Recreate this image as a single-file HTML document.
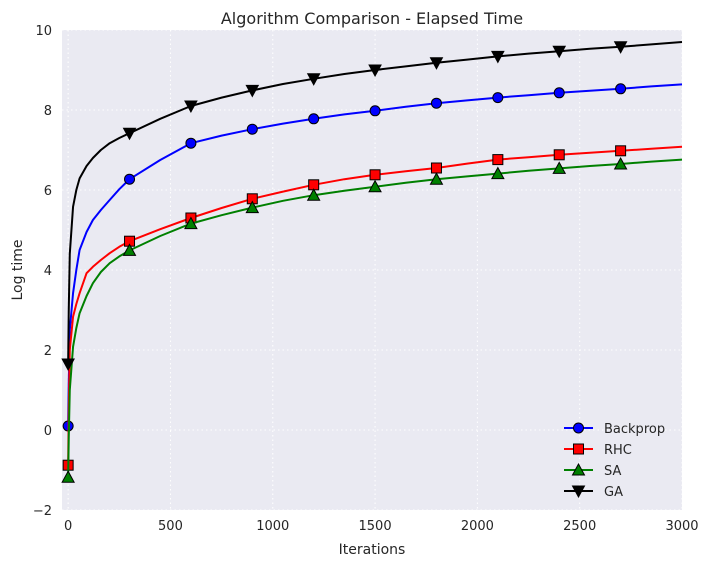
<!DOCTYPE html>
<html><head><meta charset="utf-8"><style>
body{margin:0;background:#fff;font-family:"Liberation Sans","DejaVu Sans",sans-serif}
svg text{font-family:"DejaVu Sans","Liberation Sans",sans-serif;fill:#262626}
</style></head><body>
<svg id="c" width="709" height="566" xmlns="http://www.w3.org/2000/svg"></svg>
<script>
const xs = [0,3,8,24,40,56,90,121,160,203,250,300,450,600,750,900,1050,1200,1350,1500,1650,1800,1950,2100,2250,2400,2550,2700,2850,3000];
const backprop = [0.1,1.2,2.5,3.42,4.0,4.5,4.95,5.25,5.5,5.75,6.02,6.27,6.75,7.17,7.36,7.52,7.66,7.78,7.89,7.98,8.08,8.17,8.24,8.31,8.37,8.43,8.48,8.53,8.59,8.64];
const rhc = [-0.88,0.5,2.0,2.83,3.15,3.42,3.92,4.08,4.25,4.42,4.58,4.72,5.02,5.3,5.55,5.78,5.96,6.13,6.27,6.38,6.47,6.55,6.66,6.76,6.82,6.88,6.93,6.98,7.03,7.08];
const sa = [-1.18,-0.2,1.0,2.08,2.55,2.92,3.35,3.67,3.95,4.17,4.34,4.49,4.85,5.16,5.37,5.56,5.73,5.87,5.98,6.08,6.18,6.27,6.34,6.41,6.48,6.54,6.6,6.65,6.71,6.76];
const ga = [1.65,3.0,4.4,5.58,6.0,6.29,6.6,6.8,7.0,7.17,7.3,7.42,7.78,8.1,8.31,8.49,8.65,8.78,8.9,9.0,9.09,9.18,9.26,9.34,9.41,9.47,9.53,9.58,9.64,9.7];
const markerIdx = [0,11,13,15,17,19,21,23,25,27];
const xTicks = [0,500,1000,1500,2000,2500,3000];
const yTicks = [-2,0,2,4,6,8,10];
const NS="http://www.w3.org/2000/svg", svg=document.getElementById('c');
const L=62,R=682,T=30,B=510, X0=-30,X1=3000,Y0=-2,Y1=10;
const sx=v=>L+(v-X0)/(X1-X0)*(R-L), sy=v=>B-(v-Y0)/(Y1-Y0)*(B-T);
function mk(t,a,p){const e=document.createElementNS(NS,t);for(const k in a)e.setAttribute(k,a[k]);(p||svg).appendChild(e);return e;}
const bg=mk('rect',{x:L,y:T,width:R-L,height:B-T,fill:'#eaeaf2'});


xTicks.forEach(v=>{const g=mk('line',{x1:sx(v),x2:sx(v),y1:T,y2:B,stroke:'#fff','stroke-dasharray':'1.5,3','stroke-width':1});


const t=mk('text',{x:sx(v),y:B+20,'font-size':13,'text-anchor':'middle'});t.textContent=v;

});
yTicks.forEach(v=>{const g=mk('line',{x1:L,x2:R,y1:sy(v),y2:sy(v),stroke:'#fff','stroke-dasharray':'1.5,3','stroke-width':1});


const t=mk('text',{x:L-10,y:sy(v)+5,'font-size':13,'text-anchor':'end'});t.textContent=v===-2?'\u22122':v;

});
function marker(type,x,y,col,g){
 if(type==='o')return mk('circle',{cx:x,cy:y,r:5,fill:col,stroke:'#000','stroke-width':1},g);
 if(type==='s')return mk('rect',{x:x-5,y:y-5,width:10,height:10,fill:col,stroke:'#000','stroke-width':1},g);
 if(type==='^')return mk('polygon',{points:`${x},${y-6} ${x-6},${y+5} ${x+6},${y+5}`,fill:col,stroke:'#000','stroke-width':1},g);
 return mk('polygon',{points:`${x},${y+6} ${x-6},${y-5} ${x+6},${y-5}`,fill:col,stroke:'#000','stroke-width':1},g);
}
const series=[['backprop',backprop,'#0000ff','o','Backprop'],['rhc',rhc,'#ff0000','s','RHC'],['sa',sa,'#008000','^','SA'],['ga',ga,'#000000','v','GA']];
series.forEach(([id,d,col,m])=>{
 const g=mk('g',{});
 
 
 const p=mk('path',{d:d.map((v,i)=>(i?'L':'M')+sx(xs[i])+','+sy(v)).join(''),fill:'none',stroke:col,'stroke-width':2,'stroke-linejoin':'round'},g);
 
 
 markerIdx.forEach(i=>{const e=marker(m,sx(xs[i]),sy(d[i]),col,g);
 
 });
});
const lg=mk('g',{});


series.forEach(([id,d,col,m,label],i)=>{
 const y=428+i*21;
 const g=mk('g',{},lg);
 
 
 mk('line',{x1:564,x2:593,y1:y,y2:y,stroke:col,'stroke-width':2},g);
 marker(m,578.5,y,col,g);
 const t=mk('text',{x:604,y:y+5,'font-size':13},g);t.textContent=label;
});
const tt=mk('text',{x:372,y:24,'font-size':16,'text-anchor':'middle'});tt.textContent='Algorithm Comparison - Elapsed Time';


const xl=mk('text',{x:372,y:554,'font-size':14,'text-anchor':'middle'});xl.textContent='Iterations';


const yl=mk('text',{x:22,y:270,'font-size':14,'text-anchor':'middle',transform:'rotate(-90 22 270)'});yl.textContent='Log time';


</script>
</body></html>
